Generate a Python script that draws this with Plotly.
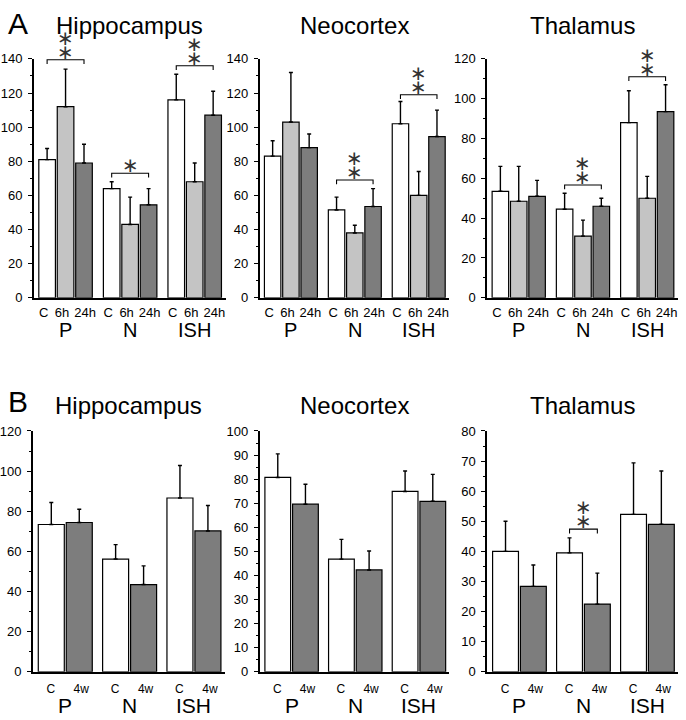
import plotly.graph_objects as go

# ---------------- data ----------------
groups = ["P", "N", "ISH"]
regions = ["Hippocampus", "Neocortex", "Thalamus"]
a_conditions = ["C", "6h", "24h"]
b_conditions = ["C", "4w"]

# Panel A (values for groups P, N, ISH)
a_hipp_c = [81, 64, 116]
a_hipp_6h = [112, 43, 68]
a_hipp_24h = [79, 54.5, 107]
a_hipp_c_err = [6.5, 4, 15]
a_hipp_6h_err = [22, 16, 11]
a_hipp_24h_err = [11, 9.5, 14]

a_neo_c = [83, 51.5, 102]
a_neo_6h = [103, 38, 60]
a_neo_24h = [88, 53.5, 94.5]
a_neo_c_err = [9, 7.5, 13]
a_neo_6h_err = [29, 4.5, 14]
a_neo_24h_err = [8, 10.5, 15.5]

a_thal_c = [53.5, 44.5, 88]
a_thal_6h = [48.5, 31, 50]
a_thal_24h = [51, 46, 93.5]
a_thal_c_err = [12.5, 8, 16]
a_thal_6h_err = [17.5, 8, 11]
a_thal_24h_err = [8, 4, 13.5]

# Panel B
b_hipp_c = [73.4, 56.2, 86.6]
b_hipp_4w = [74.4, 43.5, 70.2]
b_hipp_c_err = [11, 7.2, 16.2]
b_hipp_4w_err = [6.6, 9.3, 12.7]

b_neo_c = [80.7, 46.8, 74.9]
b_neo_4w = [69.6, 42.3, 70.8]
b_neo_c_err = [9.8, 8.2, 8.5]
b_neo_4w_err = [8.3, 7.9, 11.2]

b_thal_c = [40, 39.5, 52.3]
b_thal_4w = [28.4, 22.5, 49]
b_thal_c_err = [10, 5, 17.1]
b_thal_4w_err = [7.1, 10.3, 17.7]

# y-axis maxima / ticks
a_ymax = [140, 140, 120]
b_ymax = [120, 100, 80]
a_dtick = [20, 20, 20]
b_dtick = [20, 10, 10]

# significance brackets: (panel index, group index, bracket height, stars)
a_sig = [(0, 0, 139.5, 2), (0, 1, 73, 1), (0, 2, 136, 2),
         (1, 1, 69, 2), (1, 2, 119, 2),
         (2, 1, 56.7, 2), (2, 2, 111, 2)]
b_sig = [(2, 1, 47.4, 2)]

# ---------------- styling ----------------
W, H = 686, 720
colors_a = ["#ffffff", "#c4c4c4", "#7d7d7d"]
colors_b = ["#ffffff", "#7d7d7d"]
x_dom_px_a = [(30, 223), (257, 448), (486, 678)]
x_dom_px_b = [(29, 222), (257, 448), (486, 678)]
ya_px = (53, 297)
yb_px = (433, 679)
A_STEP, B_STEP = 3.5, 2.3
A_RANGE = [-0.72, 9.68]
B_RANGE = [-0.66, 6.2]
A_LABEL_SHIFT = [-0.19, -0.19, 0.06]
B_LABEL_SHIFT = [-0.02, 0.07]
FONT = "Liberation Sans, Arial, sans-serif"
NARROW = "Liberation Sans Narrow, Arial Narrow, Liberation Sans, sans-serif"

fig = go.Figure()
annotations = []

a_vals = [[a_hipp_c, a_hipp_6h, a_hipp_24h], [a_neo_c, a_neo_6h, a_neo_24h],
          [a_thal_c, a_thal_6h, a_thal_24h]]
a_errs = [[a_hipp_c_err, a_hipp_6h_err, a_hipp_24h_err],
          [a_neo_c_err, a_neo_6h_err, a_neo_24h_err],
          [a_thal_c_err, a_thal_6h_err, a_thal_24h_err]]
b_vals = [[b_hipp_c, b_hipp_4w], [b_neo_c, b_neo_4w], [b_thal_c, b_thal_4w]]
b_errs = [[b_hipp_c_err, b_hipp_4w_err], [b_neo_c_err, b_neo_4w_err],
          [b_thal_c_err, b_thal_4w_err]]


def axis_names(k):
    return ("x" if k == 1 else f"x{k}"), ("y" if k == 1 else f"y{k}")


def add_panel(k, vals, errs, conds, colors, step, xr, xdom_px, y_px, ymax, dtick,
              sigs, cat_size, cat_pad, lshift, title, letter, letter_y, title_y,
              group_y, grp_size):
    xn, yn = axis_names(k)
    ncond = len(conds)
    for ci, cond in enumerate(conds):
        xs = [g * step + ci for g in range(len(groups))]
        fig.add_trace(go.Bar(
            x=xs, y=vals[ci], width=0.9 if ncond == 3 else 0.93,
            marker=dict(color=colors[ci], line=dict(color="black", width=1.2)),
            error_y=dict(type="data", symmetric=False, array=errs[ci],
                         arrayminus=[0] * len(groups), color="black",
                         thickness=1.4, width=2),
            xaxis=xn, yaxis=yn, showlegend=False, name=cond))
    # brackets
    for (p, g, yb, nstars) in sigs:
        x0 = g * step
        x1 = g * step + ncond - 1
        d = ymax * 0.018
        fig.add_trace(go.Scatter(
            x=[x0, x0, x1, x1], y=[yb - d, yb, yb, yb - d], mode="lines",
            line=dict(color="black", width=1.1), xaxis=xn, yaxis=yn,
            showlegend=False, hoverinfo="skip", cliponaxis=False))
        for s in range(nstars):
            annotations.append(dict(
                x=(x0 + x1) / 2, y=yb, xref=xn, yref=yn, text="∗",
                showarrow=False, yanchor="bottom", xanchor="center",
                yshift=-6 + 14 * s,
                font=dict(family="DejaVu Sans", size=20, color="#333")))
    xd = [xdom_px[0] / W, xdom_px[1] / W]
    yd = [1 - y_px[1] / H, 1 - y_px[0] / H]
    tickvals = [g * step + ci + lshift[ci] for g in range(len(groups))
                for ci in range(ncond)]
    ticktext = [c for g in range(len(groups)) for c in conds]
    fig.update_layout(**{
        ("xaxis" if k == 1 else f"xaxis{k}"): dict(
            domain=xd, range=xr, showline=True, linecolor="black", linewidth=1.5,
            ticks="outside", ticklen=cat_pad, tickcolor="rgba(0,0,0,0)",
            tickvals=tickvals, ticktext=ticktext, showgrid=False,
            zeroline=False, anchor=yn, fixedrange=True, tickangle=0,
            tickfont=dict(family=FONT, size=cat_size, color="black")),
        ("yaxis" if k == 1 else f"yaxis{k}"): dict(
            domain=yd, range=[0, ymax], showline=True, linecolor="black",
            linewidth=1.5, ticks="outside", ticklen=4, tickwidth=1.3,
            tickcolor="black", dtick=dtick, tick0=0, showgrid=False,
            zeroline=False, anchor=xn, fixedrange=True, ticklabelstandoff=3,
            minor=dict(dtick=dtick / 2, ticks="outside", ticklen=2,
                       tickcolor="black", tickwidth=1.3),
            tickfont=dict(family=NARROW, size=13, color="black")),
    })
    # group labels
    for g, grp in enumerate(groups):
        annotations.append(dict(
            x=g * step + (ncond - 1) / 2, y=group_y, xref=xn, yref="paper",
            text=grp, showarrow=False, yanchor="middle", xanchor="center",
            font=dict(family=FONT, size=grp_size, color="black")))
    # title
    annotations.append(dict(
        x=(xd[0] + xd[1]) / 2, y=title_y, xref="paper", yref="paper",
        text=title, showarrow=False, yanchor="middle", xanchor="center",
        font=dict(family=FONT, size=24, color="black")))
    if letter:
        annotations.append(dict(
            x=14 / W, y=letter_y, xref="paper", yref="paper", text=letter,
            showarrow=False, yanchor="middle", xanchor="center",
            font=dict(family=FONT, size=30, color="black")))


for r in range(3):
    add_panel(r + 1, a_vals[r], a_errs[r], a_conditions, colors_a, A_STEP, A_RANGE,
              x_dom_px_a[r], ya_px, a_ymax[r], a_dtick[r],
              [s for s in a_sig if s[0] == r], 13, 2, A_LABEL_SHIFT, regions[r],
              "A" if r == 0 else None, 1 - 17 / H, 1 - 19 / H, 1 - 330 / H, 20)
for r in range(3):
    add_panel(r + 4, b_vals[r], b_errs[r], b_conditions, colors_b, B_STEP, B_RANGE,
              x_dom_px_b[r], yb_px, b_ymax[r], b_dtick[r],
              [s for s in b_sig if s[0] == r], 12, 5, B_LABEL_SHIFT, regions[r],
              "B" if r == 0 else None, 1 - 403 / H, 1 - 407 / H, 1 - 713 / H, 21)

fig.update_layout(width=W, height=H, margin=dict(l=0, r=0, t=0, b=0),
                  paper_bgcolor="white", plot_bgcolor="white",
                  barmode="overlay", annotations=annotations,
                  font=dict(family=FONT, color="black"))
fig.write_html("out.html", config={"displayModeBar": False},
               post_script="document.body.style.margin='0';"
                           "document.body.style.overflow='hidden';")
